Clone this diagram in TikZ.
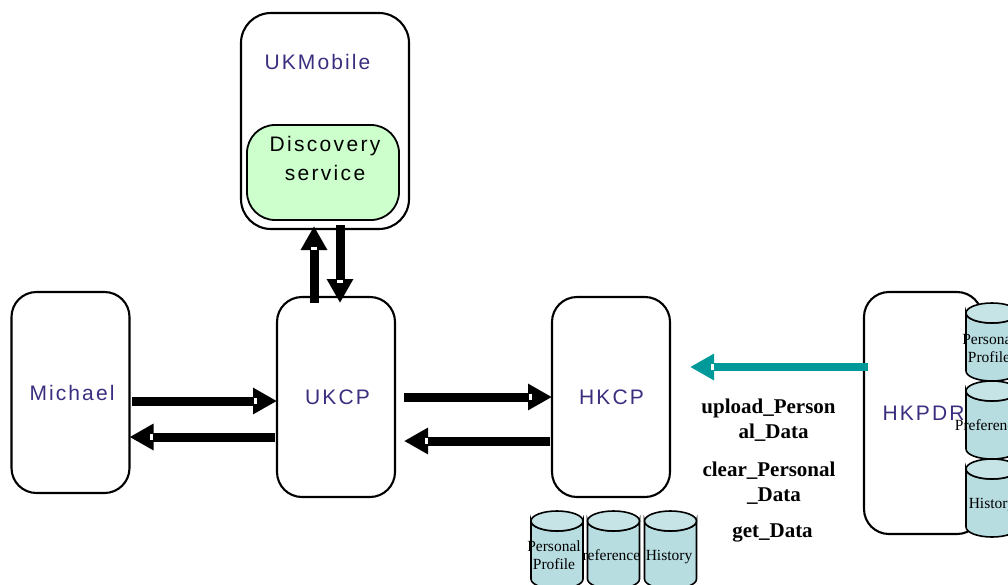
\documentclass[tikz,border=0pt]{standalone}
\usepackage{fontspec}
\setmainfont{Liberation Serif}
\newfontfamily\boxfont[LetterSpace=10]{Liberation Sans}
\newfontfamily\innerfont[LetterSpace=11]{Liberation Sans}
\usetikzlibrary{arrows.meta,decorations.markings}
\definecolor{boxtext}{HTML}{3A2F7F}
\definecolor{greenfill}{HTML}{CCFFCC}
\definecolor{cylbody}{HTML}{B8DDE1}
\definecolor{cyltop}{HTML}{C6E4E6}
\definecolor{tealflow}{HTML}{009999}
\tikzset{
  agent/.style={draw, rectangle, rounded corners=25pt, line width=2.1pt, outer sep=0pt, inner sep=0pt, minimum width=118pt, minimum height=200pt},
  agentname/.style={font=\boxfont\fontsize{21}{25}\selectfont, text=boxtext, inner sep=0pt},
  store/.pic={
    \draw[line width=1.6pt, fill=cylbody] (-26,-29) -- (-26,29) arc[start angle=180, end angle=360, x radius=26pt, y radius=10pt] -- (26,-29) arc[start angle=360, end angle=180, x radius=26pt, y radius=10pt] -- cycle;
    \draw[line width=1.6pt, fill=cyltop] (0,-29) ellipse[x radius=26pt, y radius=10pt];
  },
  storename/.style={font=\fontsize{15.5}{18.5}\selectfont, align=center, inner sep=0pt},
  opname/.style={font=\bfseries\fontsize{21}{25}\selectfont, align=center, inner sep=0pt},
  flow/.style={line width=9pt, -{Triangle[length=24pt,width=25pt]}, postaction={decorate},
    decoration={markings, mark=at position 1 with {\fill[white] (-23.5pt,-3.2pt) rectangle (-20.5pt,3.2pt);}}}
}
\begin{document}
\begin{tikzpicture}[x=1pt,y=-1pt]
\useasboundingbox (0,0) rectangle (1008,584);

% UKMobile
\node[agent, rounded corners=30pt, minimum width=168pt, minimum height=216pt] (ukmobile) at (325,121) {};
\node[agentname] (ukmobilename) at (317.5,62) {UKMobile};
\node[draw, rectangle, rounded corners=28pt, line width=1.8pt, fill=greenfill, minimum width=152pt, minimum height=95pt, inner sep=0pt] (discovery) at (323,172.5) {};
\node[font=\innerfont\fontsize{21}{29}\selectfont, align=center, inner sep=0pt] (discoveryname) at (325,158) {Discovery\\service};

% agents
\node[agent, minimum height=201pt] (michael) at (70.5,392.5) {};
\node[agentname] (michaelname) at (72,393) {Michael};
\node[agent] (ukcp) at (336,397) {};
\node[agentname] (ukcpname) at (337.5,397) {UKCP};
\node[agent] (hkcp) at (611,397) {};
\node[agentname] (hkcpname) at (611.5,397) {HKCP};
\node[agent, minimum height=242pt] (hkpdr) at (923,413) {};

% HKCP stores
\pic (hkhistory) at (670.5,550) {store};
\node[storename] (hkhistoryname) at (669,557) {History};
\pic (hkpref) at (613.5,550) {store};
\node[storename] (hkprefname) at (607,555) {Preference};
\pic (hkprofile) at (557,550) {store};
\node[storename] (hkprofilename) at (554,555) {Personal\\Profile};

% HKPDR stores
\pic (pdrhistory) at (992,498) {store};
\pic (pdrpref) at (992,420) {store};
\pic (pdrprofile) at (992,342) {store};
\node[storename] (pdrprofilename) at (989,348) {Personal\\Profile};
\node[storename] (pdrprefname) at (988,425) {Preference};
\node[storename] (pdrhistoryname) at (992,505) {History};
\node[agentname] (hkpdrname) at (923.5,413) {HKPDR};

% operations
\node[opname] (upload) at (773.5,420.5) {upload\_Person\hspace*{10pt}\\al\_Data};
\node[opname] (clear) at (774,483.5) {clear\_Personal\hspace*{10pt}\\\_Data};
\node[opname] (getdata) at (772.5,533) {get\_Data};

% flows
\draw[flow] ([xshift=-22pt,yshift=-6pt]ukcp.north) -- ([xshift=-11pt,yshift=3pt]ukmobile.south);
\draw[flow] ([xshift=15pt,yshift=4pt]ukmobile.south) -- ([xshift=4pt,yshift=-6pt]ukcp.north);
\draw[flow] ([xshift=2pt,yshift=-8.5pt]michael.east) -- ([yshift=-4pt]ukcp.west);
\draw[flow] ([xshift=-2pt,yshift=-40pt]ukcp.west) -- ([yshift=-44.5pt]michael.east);
\draw[flow] ([xshift=9pt]ukcp.east) -- (hkcp.west);
\draw[flow] ([xshift=-2pt,yshift=-44pt]hkcp.west) -- ([xshift=9pt,yshift=-44pt]ukcp.east);
\draw[flow, tealflow, line width=8pt] ([xshift=4pt,yshift=46pt]hkpdr.west) -- ([xshift=20pt,yshift=30pt]hkcp.east);
\end{tikzpicture}
\end{document}
